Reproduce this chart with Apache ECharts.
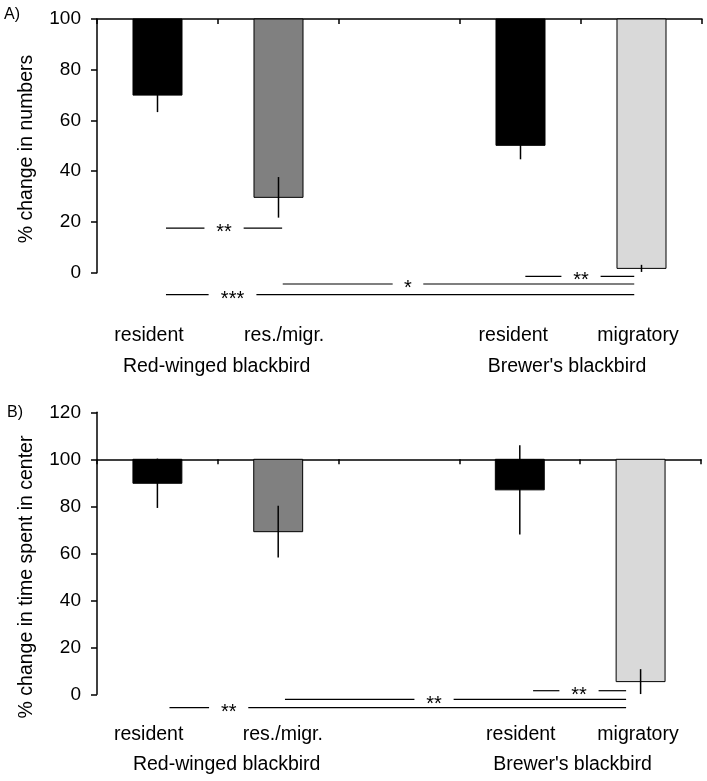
<!DOCTYPE html>
<html><head><meta charset="utf-8">
<script src="https://cdn.jsdelivr.net/npm/echarts@6/dist/echarts.min.js"></script>
<style>html,body{margin:0;padding:0;background:#fff}#c{width:707px;height:781px}</style>
</head><body><div id="c"></div>
<script>
// ---- data ----
const categories = ['resident', 'res./migr.', '', 'resident', 'migratory'];
const groupNames = ['Red-winged blackbird', "Brewer's blackbird"];
const barColors = ['#000000', '#808080', null, '#000000', '#d9d9d9'];
const numbersMean = [70, 29.7, null, 50.2, 1.7];
const numbersErr = [6.7, 8, null, 5.5, 1.4];
const timeMean = [89.8, 69.2, null, 87, 5.4];
const timeErr = [10.5, 11, null, 19, 5.3];
const yTicksA = [0, 20, 40, 60, 80, 100];
const yTicksB = [0, 20, 40, 60, 80, 100, 120];
const titleA = '% change in numbers';
const titleB = '% change in time spent in center';
// significance bars: [from, to, y, label, labelX]  (x in category-index units)
const sigA = [
  [0.07, 1.03, 17.6, '**', 0.55],
  [1.035, 3.94, -4.45, '*', 2.07],
  [0.07, 3.94, -8.67, '***', 0.62],
  [3.04, 3.94, -1.42, '**', 3.5]
];
const sigB = [
  [0.1, 3.88, -5.7, '**', 0.59],
  [1.056, 3.88, -2.2, '**', 2.29],
  [3.11, 3.88, 1.53, '**', 3.49]
];

const FONT = '"Liberation Sans", Arial, Helvetica, sans-serif';
const chart = echarts.init(document.getElementById('c'), null, {renderer: 'canvas'});

function barData(mean) {
  const d = [];
  mean.forEach((v, i) => { if (v != null) d.push([i, v]); });
  return d;
}
function errData(mean, err) {
  const d = [];
  mean.forEach((v, i) => { if (v != null) d.push([i, v, err[i]]); });
  return d;
}
function barRender(base) {
  return function (params, api) {
    const i = api.value(0), v = api.value(1);
    const top = api.coord([i, base]);
    const bot = api.coord([i, v]);
    const w = api.size([1, 0])[0] * 0.405;
    return {
      type: 'rect',
      shape: {x: top[0] - w / 2, y: top[1], width: w, height: bot[1] - top[1]},
      style: {fill: barColors[i], stroke: '#000', lineWidth: 1}
    };
  };
}
function errRender(params, api) {
  const i = api.value(0), v = api.value(1), e = api.value(2);
  const a = api.coord([i, v + e]);
  const b = api.coord([i, v - e]);
  return {type: 'line', shape: {x1: a[0], y1: a[1], x2: b[0], y2: b[1]}, style: {stroke: '#000', lineWidth: 1.5}};
}
function sigRender(sig) {
  return function (params, api) {
    const s = sig[params.dataIndex];
    const p1 = api.coord([s[0], s[2]]);
    const p2 = api.coord([s[1], s[2]]);
    const pt = api.coord([s[4], s[2]]);
    const half = 11 + 4.3 * s[3].length;
    const st = {stroke: '#000', lineWidth: 1.2};
    return {
      type: 'group',
      children: [
        {type: 'line', shape: {x1: p1[0], y1: p1[1], x2: pt[0] - half, y2: p1[1]}, style: st},
        {type: 'line', shape: {x1: pt[0] + half, y1: p1[1], x2: p2[0], y2: p1[1]}, style: st},
        {type: 'text', style: {text: s[3], x: pt[0], y: pt[1] + 4.6, fill: '#000', font: '20px ' + FONT, align: 'center', verticalAlign: 'middle'}}
      ]
    };
  };
}

const gridA = {left: 97, top: 19, width: 605, height: 253.7};
const gridB = {left: 97, top: 412.3, width: 604, height: 282};

function yAxis(gi, ticks) {
  return {
    type: 'value', gridIndex: gi,
    min: ticks[0], max: ticks[ticks.length - 1], interval: ticks[1] - ticks[0],
    splitLine: {show: false},
    axisLine: {show: true, onZero: false, lineStyle: {color: '#000', width: 1.5}},
    axisTick: {show: true, length: 6, lineStyle: {color: '#000', width: 1.5}},
    axisLabel: {color: '#000', fontSize: 19, fontFamily: FONT, margin: 16}
  };
}
function catAxis(gi, offset) {
  return {
    type: 'category', gridIndex: gi, data: categories, position: 'top', offset: offset,
    boundaryGap: true,
    axisLine: {show: true, onZero: false, lineStyle: {color: '#000', width: 1.5}},
    axisTick: {show: true, inside: true, length: 5, lineStyle: {color: '#000', width: 1.5}},
    axisLabel: {show: false},
    splitLine: {show: false}
  };
}
function annAxis(gi) {
  return {type: 'value', gridIndex: gi, min: -0.5, max: categories.length - 0.5, show: false, splitLine: {show: false}};
}

const bOffset = -(gridB.height * (yTicksB[yTicksB.length - 1] - 100) / (yTicksB[yTicksB.length - 1] - yTicksB[0]));

function txt(t, x, y, size, align) {
  return {type: 'text', x: x, y: y, style: {text: t, fill: '#000', font: size + 'px ' + FONT, align: align || 'center', verticalAlign: 'middle'}, z: 10};
}
const labelsA_x = [149, 284.2, null, 513.3, 638];
const labelsB_x = [148.7, 282.8, null, 520.8, 638];
const graphics = [
  txt('A)', 4, 15, 16, 'left'),
  txt('B)', 7, 413, 16, 'left'),
  Object.assign(txt(titleA, 27, 149, 19.5), {rotation: Math.PI / 2}),
  Object.assign(txt(titleB, 27, 577, 19.5), {rotation: Math.PI / 2}),
  txt(groupNames[0], 216.7, 366.5, 19.5),
  txt(groupNames[1], 567, 366.5, 19.5),
  txt(groupNames[0], 226.7, 765, 19.5),
  txt(groupNames[1], 572.5, 765, 19.5)
];
categories.forEach((c, i) => {
  if (!c) return;
  graphics.push(txt(c, labelsA_x[i], 335.5, 19.5));
  graphics.push(txt(c, labelsB_x[i], 735, 19.5));
});

chart.setOption({
  animation: false,
  backgroundColor: '#fff',
  grid: [gridA, gridB],
  xAxis: [catAxis(0, 0), catAxis(1, bOffset), annAxis(0), annAxis(1)],
  yAxis: [yAxis(0, yTicksA), yAxis(1, yTicksB)],
  series: [
    {type: 'custom', xAxisIndex: 0, yAxisIndex: 0, data: barData(numbersMean), renderItem: barRender(100), z: 2},
    {type: 'custom', xAxisIndex: 0, yAxisIndex: 0, data: errData(numbersMean, numbersErr), renderItem: errRender, z: 3},
    {type: 'custom', xAxisIndex: 1, yAxisIndex: 1, data: barData(timeMean), renderItem: barRender(100), z: 2},
    {type: 'custom', xAxisIndex: 1, yAxisIndex: 1, data: errData(timeMean, timeErr), renderItem: errRender, z: 3},
    {type: 'custom', xAxisIndex: 2, yAxisIndex: 0, clip: false, data: sigA.map(s => [s[0], s[2]]), renderItem: sigRender(sigA), z: 4},
    {type: 'custom', xAxisIndex: 3, yAxisIndex: 1, clip: false, data: sigB.map(s => [s[0], s[2]]), renderItem: sigRender(sigB), z: 4}
  ],
  graphic: graphics
});
</script>
</body></html>
